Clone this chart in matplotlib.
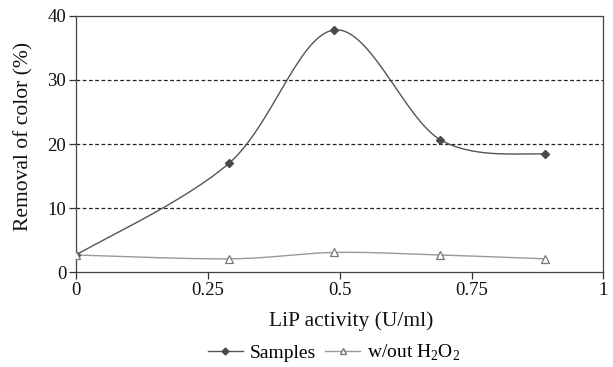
import numpy as np
import matplotlib
matplotlib.use("Agg")
import matplotlib.pyplot as plt
from matplotlib.lines import Line2D

plt.rcParams['font.family'] = ['Liberation Serif', 'DejaVu Serif']
plt.rcParams['mathtext.fontset'] = 'custom'
plt.rcParams['mathtext.rm'] = 'Liberation Serif'

lip_activity = [0.0, 0.29, 0.49, 0.69, 0.89]
samples = [2.7, 17.0, 37.8, 20.7, 18.4]
without_h2o2 = [2.7, 2.1, 3.1, 2.7, 2.1]
x_ticks = [0, 0.25, 0.5, 0.75, 1]
x_tick_labels = ['0', '0.25', '0.5', '0.75', '1']
y_ticks = [0, 10, 20, 30, 40]


def smooth(xs, ys, n=40):
    """Excel-style smoothed line (Catmull-Rom Bezier) through the points."""
    P = np.column_stack([xs, ys]).astype(float)
    m = len(P)
    out = []
    t = np.linspace(0, 1, n)
    for i in range(m - 1):
        p0 = P[i - 1] if i > 0 else P[i]
        p1 = P[i]
        p2 = P[i + 1]
        p3 = P[i + 2] if i + 2 < m else P[i + 1]
        c1 = p1 + (p2 - p0) / 6.0
        c2 = p2 - (p3 - p1) / 6.0
        seg = ((1 - t) ** 3)[:, None] * p1 + (3 * (1 - t) ** 2 * t)[:, None] * c1 \
            + (3 * (1 - t) * t ** 2)[:, None] * c2 + (t ** 3)[:, None] * p2
        out.append(seg if i == 0 else seg[1:])
    s = np.vstack(out)
    return s[:, 0], s[:, 1]


fig = plt.figure(figsize=(6.13, 3.67), dpi=100)
ax = fig.add_axes([0.124, 0.258, 0.8605, 0.699])

for yv in [10, 20, 30]:
    ax.axhline(yv, color='#222222', linestyle=(0, (3, 2)), linewidth=0.9, zorder=1)

sx, sy = smooth(lip_activity, samples)
ax.plot(sx, sy, color='#555555', linewidth=1.0, zorder=2)
ax.plot(lip_activity, samples, linestyle='none', marker='D', markersize=4.3,
        color='#4a4a4a', zorder=3)

wx, wy = smooth(lip_activity, without_h2o2)
ax.plot(wx, wy, color='#999999', linewidth=1.0, zorder=2)
ax.plot(lip_activity, without_h2o2, linestyle='none', marker='^', markersize=6,
        markerfacecolor='white', markeredgecolor='#777777', markeredgewidth=0.9, zorder=3)

ax.set_xlim(0, 1)
ax.set_ylim(0, 40)
ax.set_xticks(x_ticks)
ax.set_xticklabels(x_tick_labels)
ax.set_yticks(y_ticks)
ax.tick_params(direction='out', length=5, width=0.9, color='#333333',
               labelsize=13.5, pad=2, labelcolor='#111111')
for sp in ax.spines.values():
    sp.set_color('#444444')
    sp.set_linewidth(0.9)

ax.set_xlabel('LiP activity (U/ml)', fontsize=15.5, color='#111111')
ax.xaxis.set_label_coords(0.521, -0.15)
ax.set_ylabel('Removal of color (%)', fontsize=15.5, color='#111111')
ax.yaxis.set_label_coords(-0.08, 0.529)

handles = [
    Line2D([], [], color='#555555', linewidth=1.0, marker='D', markersize=3.5,
           markerfacecolor='#4a4a4a', markeredgecolor='#4a4a4a'),
    Line2D([], [], color='#999999', linewidth=1.0, marker='^', markersize=5,
           markerfacecolor='white', markeredgecolor='#777777'),
]
fig.legend(handles, ['Samples', 'w/out H$_2$O$_2$'], loc='center',
           bbox_to_anchor=(0.545, 0.038), ncol=2, frameon=False, fontsize=14,
           handlelength=1.8, columnspacing=0.5, handletextpad=0.35,
           borderaxespad=0, borderpad=0)

fig.savefig('out.png', dpi=100)
